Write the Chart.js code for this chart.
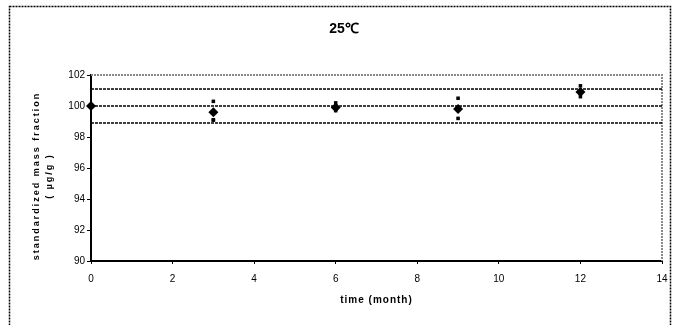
<!DOCTYPE html>
<html>
<head>
<meta charset="utf-8">
<script src="https://cdn.jsdelivr.net/npm/chart.js@4.4.0/dist/chart.umd.min.js"></script>
<style>
  html, body { margin: 0; padding: 0; background: #fff; }
  #wrap { width: 673px; height: 325px; }
</style>
</head>
<body>
<div id="wrap"><canvas id="chart" width="673" height="325"></canvas></div>
<script>
// ── Data ──────────────────────────────────────────────────────────────────────
const MONTHS      = [0, 3, 6, 9, 12];
const MEAN_VALUES = [100, 99.6, 99.9, 99.8, 100.9];

// individual replicate readings (small marks around each mean)
const REP_MONTHS  = [3, 3, 3, 6, 6, 9, 9, 12, 12];
const REP_VALUES  = [100.3, 99.1, 99.1, 100.2, 99.7, 100.5, 99.2, 101.3, 100.6];

// reference band: certified value and ± uncertainty
const REF_CENTER  = 100;
const REF_UPPER   = 101.1;
const REF_LOWER   = 98.9;
const X_RANGE     = [0, 14];

const TITLE   = '25\u2103';
const X_TITLE = 'time (month)';
const Y_TITLE = ['standardized mass fraction', '( \u00b5g/g )'];

// ── Helpers ───────────────────────────────────────────────────────────────────
const pts = (xs, ys) => xs.map((x, i) => ({ x, y: ys[i] }));
const hline = v => X_RANGE.map(x => ({ x, y: v }));

// draws frame, titles and the grey plot border
const decor = {
  id: 'decor',
  beforeDraw(chart) {
    const { ctx } = chart;
    ctx.save();
    ctx.strokeStyle = '#000';
    ctx.lineWidth = 1.5;
    ctx.setLineDash([2, 1]);
    ctx.strokeRect(9.5, 6.5, 661, 340);
    ctx.restore();
  },
  beforeDatasetsDraw(chart) {
    const { ctx, chartArea: a } = chart;
    ctx.save();
    ctx.strokeStyle = '#888';
    ctx.lineWidth = 2;
    ctx.setLineDash([2, 1]);
    ctx.beginPath();
    ctx.moveTo(a.left, a.top);
    ctx.lineTo(a.right, a.top);
    ctx.lineTo(a.right, a.bottom);
    ctx.stroke();
    ctx.restore();
  },
  afterDatasetsDraw(chart) {
    const { ctx, chartArea: a } = chart;
    ctx.save();
    ctx.fillStyle = '#000';
    ctx.textAlign = 'center';
    ctx.textBaseline = 'middle';
    ctx.font = 'bold 14px "Liberation Sans", Arial, sans-serif';
    ctx.fillText(TITLE, 344, 29);

    ctx.font = 'bold 10px "Liberation Sans", Arial, sans-serif';
    ctx.letterSpacing = '1px';
    ctx.fillText(X_TITLE, (a.left + a.right) / 2, 300);

    ctx.translate(43, 176);
    ctx.rotate(-Math.PI / 2);
    ctx.font = 'bold 9px "Liberation Sans", Arial, sans-serif';
    ctx.letterSpacing = '2px';
    ctx.fillText(Y_TITLE[0], 0, -6);
    ctx.fillText(Y_TITLE[1], 0, 7);
    ctx.restore();
    ctx.letterSpacing = '0px';
  }
};

const refLine = (v) => ({
  type: 'line',
  data: hline(v),
  borderColor: '#000',
  borderWidth: 1.5,
  borderDash: [3, 1],
  pointRadius: 0,
  fill: false,
  order: 3
});

new Chart(document.getElementById('chart'), {
  type: 'scatter',
  data: {
    datasets: [
      refLine(REF_UPPER),
      refLine(REF_CENTER),
      refLine(REF_LOWER),
      {
        data: pts(REP_MONTHS, REP_VALUES),
        pointStyle: 'rect',
        pointRadius: 2.5,
        backgroundColor: '#000',
        borderColor: '#000',
        borderWidth: 0,
        clip: false,
        order: 2
      },
      {
        data: pts(MONTHS, MEAN_VALUES),
        pointStyle: 'rectRot',
        pointRadius: 5,
        backgroundColor: '#000',
        borderColor: '#000',
        borderWidth: 0,
        clip: false,
        order: 1
      }
    ]
  },
  options: {
    responsive: false,
    animation: false,
    events: [],
    layout: { padding: { top: 75, right: 11, left: 0, bottom: 0 } },
    plugins: { legend: { display: false }, tooltip: { enabled: false }, title: { display: false } },
    scales: {
      x: {
        type: 'linear',
        min: 0, max: 14,
        ticks: { stepSize: 2, color: '#000', padding: 9, font: { size: 10, family: '"Liberation Sans", Arial' } },
        grid: { display: true, drawOnChartArea: false, drawTicks: true, tickLength: 3, color: '#000' },
        border: { color: '#000', width: 2, dash: [2, 1] },
        afterFit: s => { s.height = 64; s.paddingLeft = 0; s.paddingRight = 0; }
      },
      y: {
        min: 90, max: 102,
        ticks: { stepSize: 2, color: '#000', padding: 2, font: { size: 10, family: '"Liberation Sans", Arial' } },
        grid: { display: true, drawOnChartArea: false, drawTicks: true, tickLength: 4, color: '#000' },
        border: { color: '#000', width: 2 },
        afterFit: s => { s.width = 91; }
      }
    }
  },
  plugins: [decor]
});
</script>
</body>
</html>
